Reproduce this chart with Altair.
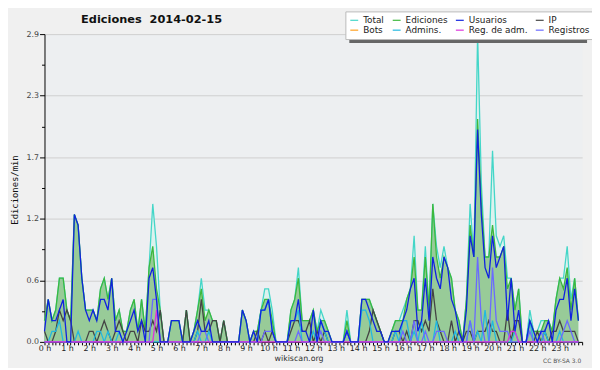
import altair as alt
import pandas as pd

# 10-minute slots over the day (minutes since 00:00)
times = list(range(0, 1440, 10))

total = [0.2,0.4,0.2,0.3,0.6,0.6,0.3,0.2,1.2,1.1,0.6,0.3,
         0.3,0.3,0.2,0.5,0.6,0.4,0.6,0.2,0.3,0.1,0.1,0.3,
         0.4,0.1,0.4,0.1,0.7,1.3,0.9,0.3,0.0,0.0,0.2,0.2,
         0.2,0.0,0.3,0.0,0.1,0.3,0.6,0.3,0.3,0.2,0.2,0.0,
         0.2,0.0,0.0,0.0,0.0,0.3,0.2,0.0,0.1,0.1,0.3,0.5,
         0.5,0.3,0.0,0.0,0.0,0.0,0.3,0.4,0.7,0.2,0.2,0.2,
         0.3,0.1,0.3,0.2,0.1,0.0,0.0,0.0,0.0,0.3,0.0,0.0,
         0.0,0.4,0.4,0.4,0.3,0.2,0.1,0.0,0.0,0.1,0.2,0.2,
         0.3,0.4,0.5,1.0,0.3,0.3,0.9,0.3,1.3,0.9,0.7,0.9,
         0.7,0.6,0.3,0.2,0.0,0.4,1.3,0.8,2.9,1.5,0.8,0.8,
         1.8,1.0,0.9,1.0,0.6,0.6,0.3,0.5,0.0,0.0,0.3,0.1,
         0.1,0.2,0.2,0.2,0.1,0.4,0.6,0.6,0.9,0.4,0.6,0.2]

ediciones = [0.2,0.4,0.2,0.3,0.6,0.6,0.3,0.2,1.2,1.1,0.6,0.3,
             0.3,0.3,0.2,0.5,0.6,0.4,0.6,0.2,0.3,0.1,0.1,0.3,
             0.4,0.1,0.4,0.1,0.7,0.9,0.5,0.3,0.0,0.0,0.2,0.2,
             0.2,0.0,0.3,0.0,0.1,0.3,0.5,0.2,0.3,0.2,0.2,0.0,
             0.2,0.0,0.0,0.0,0.0,0.3,0.2,0.0,0.1,0.1,0.3,0.4,
             0.4,0.2,0.0,0.0,0.0,0.0,0.3,0.4,0.6,0.2,0.2,0.2,
             0.3,0.1,0.2,0.2,0.1,0.0,0.0,0.0,0.0,0.2,0.0,0.0,
             0.0,0.4,0.4,0.4,0.3,0.2,0.1,0.0,0.0,0.1,0.2,0.2,
             0.2,0.4,0.5,0.8,0.3,0.3,0.8,0.3,1.3,0.8,0.6,0.8,
             0.7,0.6,0.3,0.2,0.0,0.4,1.1,0.8,2.1,1.3,0.8,0.8,
             1.1,0.8,0.8,0.9,0.5,0.6,0.3,0.5,0.0,0.0,0.2,0.1,
             0.1,0.1,0.2,0.2,0.1,0.4,0.6,0.5,0.7,0.3,0.6,0.2]

usuarios = [0.1,0.4,0.2,0.2,0.3,0.4,0.0,0.0,1.2,1.1,0.6,0.3,
            0.2,0.3,0.2,0.4,0.4,0.3,0.6,0.1,0.1,0.0,0.1,0.2,
            0.3,0.1,0.2,0.0,0.6,0.7,0.4,0.0,0.0,0.0,0.2,0.2,
            0.2,0.0,0.0,0.0,0.1,0.2,0.1,0.1,0.2,0.0,0.0,0.0,
            0.0,0.0,0.0,0.0,0.0,0.3,0.2,0.0,0.1,0.0,0.3,0.3,
            0.4,0.1,0.0,0.0,0.0,0.0,0.2,0.2,0.4,0.1,0.1,0.0,
            0.3,0.0,0.2,0.1,0.1,0.0,0.0,0.0,0.0,0.1,0.0,0.0,
            0.0,0.4,0.4,0.3,0.2,0.1,0.1,0.0,0.0,0.1,0.1,0.1,
            0.2,0.3,0.5,0.6,0.1,0.2,0.6,0.2,0.8,0.6,0.5,0.8,
            0.7,0.4,0.3,0.1,0.0,0.3,1.0,0.8,2.0,1.2,0.7,0.6,
            1.0,0.7,0.8,0.9,0.2,0.6,0.1,0.3,0.0,0.0,0.2,0.1,
            0.0,0.1,0.1,0.2,0.0,0.3,0.4,0.4,0.6,0.2,0.5,0.2]

ip = [0.1,0.0,0.0,0.1,0.3,0.2,0.3,0.2,0.0,0.0,0.0,0.0,
      0.1,0.1,0.0,0.1,0.2,0.1,0.0,0.1,0.2,0.1,0.0,0.1,
      0.1,0.0,0.2,0.1,0.1,0.2,0.1,0.3,0.0,0.0,0.0,0.0,
      0.0,0.0,0.3,0.0,0.0,0.1,0.4,0.1,0.1,0.2,0.2,0.0,
      0.2,0.0,0.0,0.0,0.0,0.0,0.0,0.0,0.0,0.1,0.0,0.1,
      0.0,0.1,0.0,0.0,0.0,0.0,0.1,0.2,0.2,0.1,0.1,0.2,
      0.0,0.1,0.0,0.1,0.0,0.0,0.0,0.0,0.0,0.1,0.0,0.0,
      0.0,0.0,0.0,0.1,0.3,0.2,0.1,0.0,0.0,0.0,0.1,0.1,
      0.0,0.1,0.0,0.2,0.2,0.1,0.2,0.1,0.5,0.2,0.1,0.0,
      0.0,0.2,0.0,0.1,0.0,0.1,0.1,0.0,0.1,0.1,0.1,0.2,
      0.1,0.1,0.0,0.0,0.3,0.0,0.2,0.2,0.0,0.0,0.0,0.0,
      0.1,0.0,0.1,0.0,0.1,0.1,0.2,0.1,0.1,0.1,0.1,0.0]

admins = [0.0,0.0,0.1,0.1,0.2,0.0,0.0,0.0,0.0,0.1,0.0,0.0,
          0.0,0.0,0.1,0.1,0.0,0.1,0.0,0.0,0.1,0.0,0.0,0.0,
          0.0,0.0,0.0,0.0,0.0,0.0,0.0,0.0,0.0,0.0,0.0,0.0,
          0.0,0.0,0.0,0.0,0.0,0.1,0.0,0.0,0.1,0.0,0.0,0.0,
          0.0,0.0,0.0,0.0,0.0,0.0,0.0,0.0,0.0,0.0,0.3,0.3,
          0.4,0.1,0.0,0.0,0.0,0.0,0.2,0.2,0.3,0.0,0.0,0.0,
          0.1,0.0,0.2,0.1,0.0,0.0,0.0,0.0,0.0,0.1,0.0,0.0,
          0.0,0.3,0.3,0.2,0.0,0.0,0.0,0.0,0.0,0.0,0.1,0.0,
          0.2,0.2,0.0,0.1,0.0,0.2,0.0,0.0,0.0,0.2,0.0,0.0,
          0.0,0.0,0.1,0.0,0.0,0.0,0.2,0.0,0.1,0.0,0.3,0.0,
          0.2,0.0,0.0,0.0,0.0,0.0,0.1,0.0,0.0,0.0,0.2,0.0,
          0.0,0.0,0.1,0.0,0.0,0.0,0.1,0.0,0.0,0.0,0.0,0.0]

registros = [0.0,0.0,0.0,0.0,0.0,0.0,0.0,0.0,0.0,0.0,0.0,0.0,
             0.0,0.0,0.0,0.0,0.0,0.0,0.0,0.0,0.0,0.0,0.0,0.0,
             0.0,0.0,0.0,0.0,0.0,0.4,0.4,0.0,0.0,0.0,0.0,0.0,
             0.0,0.0,0.0,0.0,0.0,0.0,0.1,0.1,0.0,0.0,0.0,0.0,
             0.0,0.0,0.0,0.0,0.0,0.0,0.0,0.0,0.0,0.0,0.0,0.1,
             0.1,0.1,0.0,0.0,0.0,0.0,0.0,0.0,0.1,0.0,0.0,0.0,
             0.0,0.0,0.1,0.0,0.0,0.0,0.0,0.0,0.0,0.1,0.0,0.0,
             0.0,0.0,0.0,0.0,0.0,0.0,0.0,0.0,0.0,0.0,0.0,0.0,
             0.1,0.0,0.0,0.2,0.0,0.0,0.1,0.0,0.0,0.1,0.1,0.1,
             0.0,0.0,0.0,0.0,0.0,0.0,0.2,0.0,0.8,0.2,0.0,0.0,
             0.7,0.2,0.1,0.1,0.1,0.0,0.0,0.0,0.0,0.0,0.1,0.0,
             0.0,0.1,0.0,0.0,0.0,0.0,0.0,0.1,0.2,0.1,0.0,0.0]

reg_adm = [0.0]*144
reg_adm[30] = 0.3
reg_adm[125] = 0.1
reg_adm[126] = 0.1

series_names = ["Total", "Ediciones", "Usuarios", "IP",
                "Bots", "Admins.", "Reg. de adm.", "Registros"]
series_colors = ["#44d6c8", "#3db83d", "#1022e0", "#444444",
                 "#ffa020", "#22b8e0", "#dd33dd", "#6a6aff"]

y_ticks = [0, 0.29, 0.58, 0.87, 1.16, 1.45, 1.74, 2.03, 2.32, 2.61, 2.9]
x_ticks = list(range(0, 1441, 10))


def frame(name, vals):
    return pd.DataFrame({"t": times, "v": vals, "serie": name})


major = "abs(datum.value/0.58 - round(datum.value/0.58)) < 0.01"

x_enc = alt.X("t:Q",
              scale=alt.Scale(domain=[0, 1440], nice=False, zero=True),
              axis=alt.Axis(values=x_ticks, title=None, grid=False,
                            labelExpr="(datum.value % 60 == 0 && datum.value < 1440) ? (datum.value/60) + ' h' : ''",
                            labelFont="DejaVu Sans", labelFontSize=8, labelColor="#222",
                            labelPadding=0, labelFlush=False, labelOverlap=False,
                            tickSize=3, tickColor="#000", domainColor="#000",
                            domainWidth=1, tickWidth=1))
y_enc = alt.Y("v:Q",
              scale=alt.Scale(domain=[0, 2.9], nice=False, zero=True),
              axis=alt.Axis(values=y_ticks, title=None,
                            labelExpr=major + " ? format(datum.value, '.1f') : ''",
                            labelFont="DejaVu Sans", labelFontSize=8, labelColor="#444",
                            labelPadding=1, labelOverlap=False,
                            tickSize={"condition": {"test": major, "value": 5}, "value": 3},
                            gridOpacity={"condition": {"test": major, "value": 1}, "value": 0},
                            gridColor="#cfcfcf", gridWidth=1,
                            tickColor="#000", domainColor="#000", domainWidth=1))

color_enc = alt.Color("serie:N",
                      scale=alt.Scale(domain=series_names, range=series_colors),
                      legend=alt.Legend(orient="none", legendX=305, legendY=-23,
                                        direction="horizontal", columns=4, title=None,
                                        symbolType="stroke", symbolSize=64,
                                        symbolStrokeWidth=1.2,
                                        labelFont="DejaVu Sans", labelFontSize=9,
                                        labelColor="#222", labelOffset=4,
                                        columnPadding=5, rowPadding=-3, padding=4,
                                        fillColor="#ffffff", strokeColor="#bbbbbb"))

total_area = alt.Chart(frame("Total", total)).mark_area(color="#dcf2ee", opacity=1).encode(x=x_enc, y=y_enc)
ed_area = alt.Chart(frame("Ediciones", ediciones)).mark_area(color="#98cb98", opacity=1).encode(x=x_enc, y=y_enc)

layers = [total_area, ed_area]
for name, vals in [("Total", total), ("Ediciones", ediciones), ("IP", ip),
                   ("Admins.", admins), ("Registros", registros),
                   ("Reg. de adm.", reg_adm), ("Usuarios", usuarios)]:
    layers.append(alt.Chart(frame(name, vals)).mark_line(strokeWidth=1.3)
                  .encode(x=x_enc, y=y_enc, color=color_enc))

one = pd.DataFrame({"k": [0]})
shadow = alt.Chart(one).mark_rect(color="#666666").encode(
    x=alt.value(309), x2=alt.value(550), y=alt.value(-19), y2=alt.value(9))
title = alt.Chart(one).mark_text(text="Ediciones\u00a0\u00a02014-02-15", font="DejaVu Sans",
                                 fontSize=11.5, fontWeight="bold", color="#111",
                                 align="center", baseline="alphabetic").encode(
    x=alt.value(108.5), y=alt.value(-11))
ytitle = alt.Chart(one).mark_text(text="Ediciones/min", font="DejaVu Sans Mono",
                                  fontSize=9, color="#111", angle=270,
                                  align="center", baseline="middle").encode(
    x=alt.value(-30), y=alt.value(158))
site = alt.Chart(one).mark_text(text="wikiscan.org", font="DejaVu Sans", fontSize=8,
                                color="#333", align="center", baseline="alphabetic").encode(
    x=alt.value(258), y=alt.value(331))
lic = alt.Chart(one).mark_text(text="CC BY-SA 3.0", font="DejaVu Sans", fontSize=6,
                               color="#555", align="right", baseline="alphabetic").encode(
    x=alt.value(544), y=alt.value(333))

chart = alt.layer(*layers, shadow, title, ytitle, site, lic).properties(
    width=545, height=312,
    padding={"left": 37, "top": 24, "right": 10, "bottom": 24},
    autosize=alt.AutoSizeParams(type="none"),
    background="#f0f0f0",
).configure_view(fill="#edeff1", stroke="transparent")

chart.save("out.html", embed_options={"renderer": "svg", "actions": False})
